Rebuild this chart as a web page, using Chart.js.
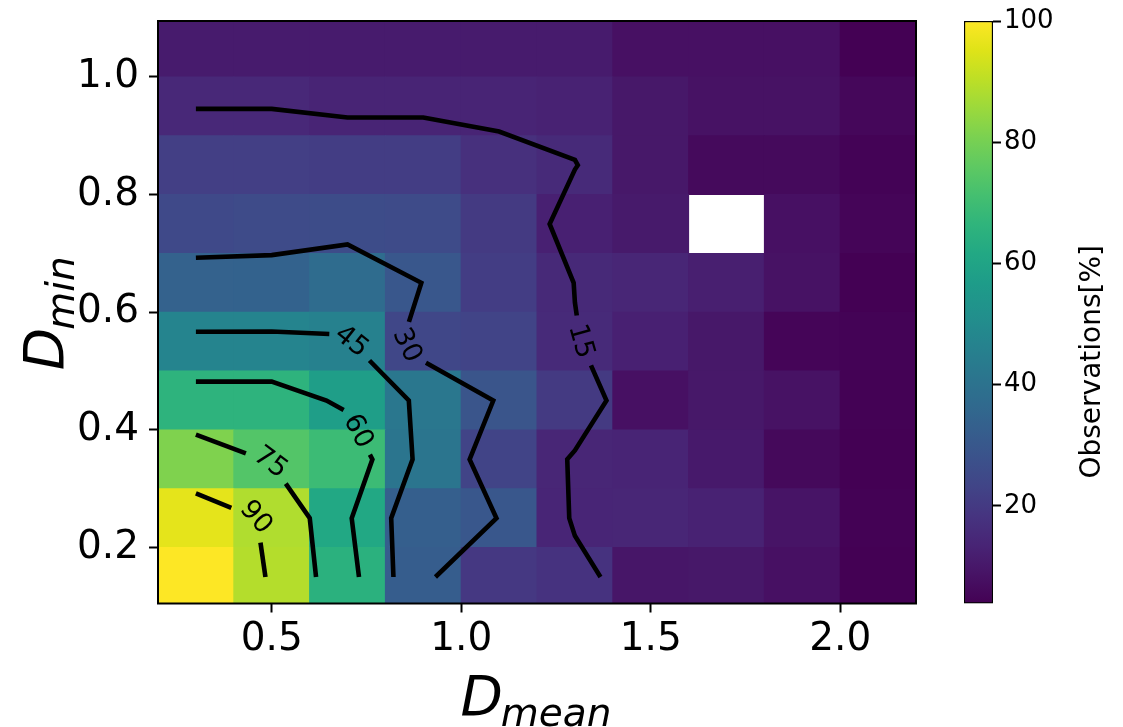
<!DOCTYPE html>
<html>
<head>
<meta charset="utf-8">
<script src="https://cdn.jsdelivr.net/npm/chart.js@4.4.1/dist/chart.umd.min.js"></script>
<style>
    html, body { margin: 0; padding: 0; background: #ffffff; }
    #wrap { position: relative; width: 1123px; height: 727px; }
    #heat { position: absolute; left: 0; top: 0; }
    #cbar { position: absolute; left: 940px; top: 0; }
</style>
</head>
<body>
<div id="wrap">
    <canvas id="heat" width="940" height="727"></canvas>
    <canvas id="cbar" width="183" height="727"></canvas>
</div>
<script>
// セル中心 (D_mean 列, D_min 行)
const dMean = [0.3, 0.5, 0.7, 0.9, 1.1, 1.3, 1.5, 1.7, 1.9, 2.1];
const dMin = [0.15, 0.25, 0.35, 0.45, 0.55, 0.65, 0.75, 0.85, 0.95, 1.05];

// 観測率 [%]：D_min の行ごと (null は欠測セル)
const obs015 = [100, 89.1, 65.0, 32.0, 19.5, 17.8, 9.5, 10.0, 8.0, 3.9];
const obs025 = [96.2, 88.5, 61.6, 32.8, 29.9, 13.8, 14.0, 13.0, 9.0, 4.2];
const obs035 = [81.5, 74.0, 69.3, 41.0, 23.0, 14.1, 13.5, 10.5, 6.0, 4.0];
const obs045 = [66.0, 66.0, 57.7, 42.0, 29.0, 20.0, 8.0, 10.0, 8.5, 4.3];
const obs055 = [47.3, 47.3, 46.0, 24.0, 23.0, 15.2, 12.5, 10.0, 5.0, 4.5];
const obs065 = [33.7, 34.0, 37.5, 29.8, 21.0, 14.9, 14.0, 12.0, 8.5, 4.0];
const obs075 = [25.0, 25.5, 26.0, 25.5, 20.0, 12.5, 10.6, null, 8.0, 5.0];
const obs085 = [21.5, 21.5, 21.0, 21.0, 17.0, 15.2, 10.0, 6.3, 6.3, 4.5];
const obs095 = [14.7, 14.7, 13.6, 13.6, 13.5, 13.0, 10.0, 8.5, 8.5, 5.5];
const obs105 = [11.0, 11.0, 11.0, 11.0, 11.0, 11.0, 8.0, 8.0, 8.0, 4.0];
const observations = [obs015, obs025, obs035, obs045, obs055, obs065, obs075, obs085, obs095, obs105];

// 等高線レベルとラベルの置き場所 (データ座標)
const contourLevels = [15, 30, 45, 60, 75, 90];
const labelSpots = [[1.31, 0.55], [0.865, 0.55], [0.71, 0.55], [0.705, 0.39], [0.5, 0.35], [0.46, 0.255]];

// 目盛り
const xTicks = [0.5, 1.0, 1.5, 2.0];
const yTicks = [0.2, 0.4, 0.6, 0.8, 1.0];
const cbarTicks = [20, 40, 60, 80, 100];

const viridis = ['#440154', '#471365', '#482475', '#463480', '#414487', '#3b528b', '#355f8d',
    '#2f6c8e', '#2a788e', '#25848e', '#21918c', '#1e9c89', '#22a884', '#2fb47c', '#44bf70',
    '#5ec962', '#7ad151', '#9bd93c', '#bddf26', '#dfe318', '#fde725'];

const FONT = '"DejaVu Sans"';
const allValues = observations.flat().filter(v => v !== null);
const vMin = Math.min(...allValues);
const vMax = Math.max(...allValues);
const halfRow = (dMin[1] - dMin[0]) / 2;

function hexToRgb(hex) {
    const n = parseInt(hex.slice(1), 16);
    return [(n >> 16) & 255, (n >> 8) & 255, n & 255];
}

// 0..1 の値を viridis の色へ
function viridisColor(t) {
    t = Math.min(1, Math.max(0, t));
    const pos = t * (viridis.length - 1);
    const i = Math.min(Math.floor(pos), viridis.length - 2);
    const f = pos - i;
    const a = hexToRgb(viridis[i]);
    const b = hexToRgb(viridis[i + 1]);
    const mix = k => Math.round(a[k] + (b[k] - a[k]) * f);
    return `rgb(${mix(0)}, ${mix(1)}, ${mix(2)})`;
}

// マーチングスクエアで等高線を線分化し、つなげてポリラインにする
function traceContours(grid, level) {
    const segs = [];
    const cross = (a, b) => (a >= level) !== (b >= level);
    const frac = (a, b) => (level - a) / (b - a);
    for (let r = 0; r < grid.length - 1; r++) {
        for (let c = 0; c < grid[r].length - 1; c++) {
            const bl = grid[r][c], br = grid[r][c + 1];
            const tl = grid[r + 1][c], tr = grid[r + 1][c + 1];
            if ([bl, br, tl, tr].some(v => v === null)) continue;
            const e = [];
            if (cross(bl, br)) e.push({ key: `h${r}_${c}`, x: dMean[c] + frac(bl, br) * (dMean[c + 1] - dMean[c]), y: dMin[r] });
            if (cross(br, tr)) e.push({ key: `v${r}_${c + 1}`, x: dMean[c + 1], y: dMin[r] + frac(br, tr) * (dMin[r + 1] - dMin[r]) });
            if (cross(tl, tr)) e.push({ key: `h${r + 1}_${c}`, x: dMean[c] + frac(tl, tr) * (dMean[c + 1] - dMean[c]), y: dMin[r + 1] });
            if (cross(bl, tl)) e.push({ key: `v${r}_${c}`, x: dMean[c], y: dMin[r] + frac(bl, tl) * (dMin[r + 1] - dMin[r]) });
            if (e.length === 2) {
                segs.push([e[0], e[1]]);
            } else if (e.length === 4) {
                const center = (bl + br + tl + tr) / 4;
                if ((bl >= level) === (center >= level)) {
                    segs.push([e[0], e[1]], [e[2], e[3]]);
                } else {
                    segs.push([e[0], e[3]], [e[1], e[2]]);
                }
            }
        }
    }

    const byKey = {};
    segs.forEach((s, i) => s.forEach(p => (byKey[p.key] = byKey[p.key] || []).push(i)));
    const used = new Array(segs.length).fill(false);
    const walk = (start, startKey) => {
        const line = [];
        let i = start, key = startKey;
        while (i !== undefined && !used[i]) {
            used[i] = true;
            const [a, b] = segs[i][0].key === key ? segs[i] : [segs[i][1], segs[i][0]];
            if (line.length === 0) line.push(a);
            line.push(b);
            key = b.key;
            i = byKey[key].find(j => !used[j]);
        }
        return line.map(p => [p.x, p.y]);
    };
    const lines = [];
    segs.forEach((s, i) => {
        if (used[i]) return;
        const end = s.find(p => byKey[p.key].length === 1);
        if (end) lines.push(walk(i, end.key));
    });
    segs.forEach((s, i) => {
        if (!used[i]) lines.push(walk(i, s[0].key));
    });
    return lines;
}

// ポリライン上の弧長ユーティリティ (ピクセル座標)
function segLengths(pts) {
    const out = [];
    for (let i = 0; i < pts.length - 1; i++) {
        out.push(Math.hypot(pts[i + 1][0] - pts[i][0], pts[i + 1][1] - pts[i][1]));
    }
    return out;
}

function pointAt(pts, lens, s) {
    let acc = 0;
    for (let i = 0; i < lens.length; i++) {
        if (acc + lens[i] >= s) {
            const t = lens[i] ? (s - acc) / lens[i] : 0;
            return [pts[i][0] + (pts[i + 1][0] - pts[i][0]) * t, pts[i][1] + (pts[i + 1][1] - pts[i][1]) * t];
        }
        acc += lens[i];
    }
    return pts[pts.length - 1];
}

function subPath(pts, lens, s1, s2) {
    const out = [pointAt(pts, lens, s1)];
    let acc = 0;
    for (let i = 0; i < lens.length; i++) {
        acc += lens[i];
        if (acc > s1 && acc < s2) out.push(pts[i + 1]);
    }
    out.push(pointAt(pts, lens, s2));
    return out;
}

function nearestOnPath(pts, sx, sy) {
    let best = { d: Infinity, s: 0 };
    let acc = 0;
    for (let i = 0; i < pts.length - 1; i++) {
        const [x0, y0] = pts[i], [x1, y1] = pts[i + 1];
        const dx = x1 - x0, dy = y1 - y0, len = Math.hypot(dx, dy);
        let t = len ? ((sx - x0) * dx + (sy - y0) * dy) / (len * len) : 0;
        t = Math.max(0, Math.min(1, t));
        const d = Math.hypot(x0 + t * dx - sx, y0 + t * dy - sy);
        if (d < best.d) best = { d, s: acc + t * len };
        acc += len;
    }
    return best;
}

function strokePath(ctx, pts) {
    if (pts.length < 2) return;
    ctx.beginPath();
    ctx.moveTo(pts[0][0], pts[0][1]);
    for (let i = 1; i < pts.length; i++) ctx.lineTo(pts[i][0], pts[i][1]);
    ctx.stroke();
}

// 等高線とインラインラベル
const contourPlugin = {
    id: 'contours',
    afterDatasetsDraw(chart) {
        const { ctx, chartArea, scales: { x, y } } = chart;
        ctx.save();
        ctx.beginPath();
        ctx.rect(chartArea.left, chartArea.top, chartArea.right - chartArea.left, chartArea.bottom - chartArea.top);
        ctx.clip();
        ctx.strokeStyle = '#000';
        ctx.fillStyle = '#000';
        ctx.lineWidth = 4.6;
        ctx.lineJoin = 'miter';
        ctx.lineCap = 'butt';
        ctx.font = `27px ${FONT}`;
        ctx.textAlign = 'center';
        ctx.textBaseline = 'middle';

        contourLevels.forEach((level, li) => {
            const lines = traceContours(observations, level)
                .map(line => line.map(p => [x.getPixelForValue(p[0]), y.getPixelForValue(p[1])]));
            const sx = x.getPixelForValue(labelSpots[li][0]);
            const sy = y.getPixelForValue(labelSpots[li][1]);
            let pick = -1, best = null;
            lines.forEach((pts, k) => {
                const n = nearestOnPath(pts, sx, sy);
                if (!best || n.d < best.d) { best = n; pick = k; }
            });

            lines.forEach((pts, k) => {
                const lens = segLengths(pts);
                const total = lens.reduce((a, b) => a + b, 0);
                if (k !== pick) { strokePath(ctx, pts); return; }
                const text = String(level);
                const w = ctx.measureText(text).width;
                const gap = w / 2 + 9;
                const s0 = best.s;
                if (s0 - gap > 0) strokePath(ctx, subPath(pts, lens, 0, s0 - gap));
                if (s0 + gap < total) strokePath(ctx, subPath(pts, lens, s0 + gap, total));
                const p0 = pointAt(pts, lens, Math.max(0, s0 - w / 2));
                const p1 = pointAt(pts, lens, Math.min(total, s0 + w / 2));
                let ang = Math.atan2(p1[1] - p0[1], p1[0] - p0[0]);
                if (ang > Math.PI / 2) ang -= Math.PI;
                if (ang < -Math.PI / 2) ang += Math.PI;
                const c = pointAt(pts, lens, s0);
                ctx.save();
                ctx.translate(c[0], c[1]);
                ctx.rotate(ang);
                ctx.fillText(text, 0, 0);
                ctx.restore();
            });
        });
        ctx.restore();
    }
};

// 斜体 + 下付き文字の軸タイトル
function drawMathLabel(ctx, base, sub, x, y, angle) {
    ctx.save();
    ctx.translate(x, y);
    ctx.rotate(angle);
    ctx.fillStyle = '#000';
    ctx.textAlign = 'left';
    ctx.textBaseline = 'alphabetic';
    ctx.font = `italic 55px ${FONT}`;
    const wb = ctx.measureText(base).width;
    ctx.font = `italic 39px ${FONT}`;
    const ws = ctx.measureText(sub).width;
    const x0 = -(wb + ws) / 2;
    ctx.font = `italic 55px ${FONT}`;
    ctx.fillText(base, x0, 0);
    ctx.font = `italic 39px ${FONT}`;
    ctx.fillText(sub, x0 + wb - 2, 11);
    ctx.restore();
}

const framePlugin = {
    id: 'frame',
    afterDraw(chart) {
        const { ctx, chartArea: a } = chart;
        ctx.save();
        ctx.strokeStyle = '#000';
        ctx.lineWidth = 2;
        ctx.strokeRect(a.left, a.top, a.right - a.left, a.bottom - a.top);
        drawMathLabel(ctx, 'D', 'mean', (a.left + a.right) / 2, 715, 0);
        drawMathLabel(ctx, 'D', 'min', 63, (a.top + a.bottom) / 2, -Math.PI / 2);
        ctx.restore();
    }
};

const tickGrid = {
    display: true,
    drawOnChartArea: false,
    drawTicks: true,
    tickLength: 9,
    tickWidth: 2,
    tickColor: '#000',
    offset: false
};

// ヒートマップ本体：行ごとに浮動棒を並べる
const heatChart = new Chart(document.getElementById('heat'), {
    type: 'bar',
    data: {
        datasets: observations.map((row, r) => ({
            data: row.map((v, c) => ({ x: dMean[c], y: v === null ? null : [dMin[r] - halfRow, dMin[r] + halfRow] })),
            backgroundColor: row.map(v => v === null ? 'rgba(0,0,0,0)' : viridisColor((v - vMin) / (vMax - vMin))),
            borderWidth: 0,
            grouped: false,
            barPercentage: 1,
            categoryPercentage: 1,
            inflateAmount: 0.5
        }))
    },
    options: {
        responsive: false,
        animation: false,
        devicePixelRatio: 1,
        layout: { padding: { left: 0, right: 24, top: 21, bottom: 0 } },
        plugins: {
            legend: { display: false },
            tooltip: { enabled: false }
        },
        scales: {
            x: {
                type: 'linear',
                min: 0.2,
                max: 2.2,
                offset: false,
                afterBuildTicks: s => { s.ticks = xTicks.map(v => ({ value: v })); },
                afterFit: s => {
                    s.height = 123.5;
                    s.paddingLeft = 0;
                    s.paddingRight = 0;
                },
                grid: tickGrid,
                border: { display: false },
                ticks: {
                    color: '#000',
                    font: { family: 'DejaVu Sans', size: 39 },
                    padding: 4,
                    maxRotation: 0,
                    autoSkip: false,
                    callback: v => Number(v).toFixed(1)
                }
            },
            y: {
                type: 'linear',
                min: 0.105,
                max: 1.095,
                afterBuildTicks: s => { s.ticks = yTicks.map(v => ({ value: v })); },
                afterFit: s => {
                    s.width = 158;
                    s.paddingTop = 0;
                    s.paddingBottom = 0;
                },
                grid: tickGrid,
                border: { display: false },
                ticks: {
                    color: '#000',
                    font: { family: 'DejaVu Sans', size: 39 },
                    padding: 10,
                    autoSkip: false,
                    callback: v => Number(v).toFixed(1)
                }
            }
        }
    },
    plugins: [contourPlugin, framePlugin]
});

// カラーバー
const cbarTitlePlugin = {
    id: 'cbarTitle',
    afterDraw(chart) {
        const { ctx, chartArea: a } = chart;
        ctx.save();
        ctx.translate(153, a.top + (a.bottom - a.top) * 0.585);
        ctx.rotate(-Math.PI / 2);
        ctx.fillStyle = '#000';
        ctx.font = `28px ${FONT}`;
        ctx.textAlign = 'center';
        ctx.textBaseline = 'middle';
        ctx.fillText('Observations[%]', 0, 0);
        ctx.restore();
    }
};

const cbarChart = new Chart(document.getElementById('cbar'), {
    type: 'bar',
    data: {
        labels: [''],
        datasets: [{
            data: [[vMin, vMax]],
            backgroundColor: c => {
                const area = c.chart.chartArea;
                if (!area) return viridis[0];
                const g = c.chart.ctx.createLinearGradient(0, area.bottom, 0, area.top);
                viridis.forEach((col, i) => g.addColorStop(i / (viridis.length - 1), col));
                return g;
            },
            borderColor: '#000',
            borderWidth: 1.5,
            borderSkipped: false,
            barPercentage: 1,
            categoryPercentage: 1
        }]
    },
    options: {
        responsive: false,
        animation: false,
        devicePixelRatio: 1,
        layout: { padding: { left: 24, right: 0, top: 21, bottom: 123.5 } },
        plugins: {
            legend: { display: false },
            tooltip: { enabled: false }
        },
        scales: {
            x: { display: false },
            y: {
                position: 'right',
                min: vMin,
                max: vMax,
                afterBuildTicks: s => { s.ticks = cbarTicks.map(v => ({ value: v })); },
                afterFit: s => {
                    s.width = 130;
                    s.paddingTop = 0;
                    s.paddingBottom = 0;
                },
                grid: { display: true, drawOnChartArea: false, drawTicks: true, tickLength: 8, tickWidth: 2, tickColor: '#000' },
                border: { display: false },
                ticks: {
                    color: '#000',
                    font: { family: 'DejaVu Sans', size: 26 },
                    padding: 3,
                    autoSkip: false
                }
            }
        }
    },
    plugins: [cbarTitlePlugin]
});
</script>
</body>
</html>
